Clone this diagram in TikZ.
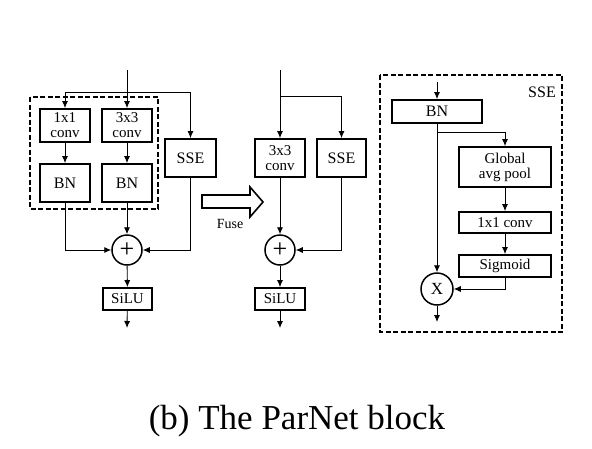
\documentclass[tikz,border=0pt]{standalone}
\usepackage{fontspec}
\setmainfont{Liberation Serif}
\usetikzlibrary{arrows.meta}

\begin{document}
\begin{tikzpicture}[x=1pt, y=-1pt, line join=miter, >={Latex[length=7pt,width=6pt]},
  blk/.style={draw, line width=1.8pt, inner sep=0pt, align=center, font=\fontsize{15}{15}\selectfont},
  op/.style={circle, draw, line width=1.5pt, inner sep=0pt, minimum size=30pt, font=\fontsize{26}{26}\selectfont},
  grp/.style={draw, dashed, dash pattern=on 5pt off 2.5pt, line width=1.8pt},
  conn/.style={line width=0.9pt, ->}]
  \useasboundingbox (0,0) rectangle (592,448);

  % training-time block
  \draw[grp] (30,97) rectangle (158,209);
  \node[blk, minimum width=50pt, minimum height=33pt] (c1) at (65,125.5) {1x1\\conv};
  \node[blk, minimum width=50pt, minimum height=33pt] (c3) at (127,125.5) {3x3\\conv};
  \node[blk, minimum width=50pt, minimum height=38pt, font=\fontsize{16}{16}\selectfont] (bn1) at (65,183) {BN};
  \node[blk, minimum width=50pt, minimum height=38pt, font=\fontsize{16}{16}\selectfont] (bn3) at (127,183) {BN};
  \node[blk, minimum width=51pt, minimum height=38pt, font=\fontsize{16}{16}\selectfont] (sseA) at (190.5,158) {SSE};
  \node[op] (addA) at (127,250) {+};
  \node[blk, minimum width=49pt, minimum height=22pt] (siluA) at (127.5,299) {SiLU};
  \coordinate (inA) at (127,70);
  \coordinate (splitA) at (127,92);
  \coordinate (outA) at (127,328);
  \draw[conn] (inA) -- (c3);
  \draw[conn] (splitA) -| (c1);
  \draw[conn] (splitA) -| (sseA);
  \draw[conn] (c1) -- (bn1);
  \draw[conn] (c3) -- (bn3);
  \draw[conn] (bn3) -- (addA);
  \draw[conn] (bn1) |- (addA);
  \draw[conn] (sseA) |- (addA);
  \draw[conn] (addA) -- (siluA);
  \draw[conn] (siluA) -- (outA);

  % fuse
  \draw[line width=1.6pt] (202,195) -- (250,195) -- (250,187) -- (263,202)
    -- (250,217) -- (250,208) -- (202,208) -- cycle;
  \node[font=\fontsize{14}{14}\selectfont] (fuselbl) at (230,224) {Fuse};

  % inference-time block
  \node[blk, minimum width=50pt, minimum height=38pt] (convB) at (280,158) {3x3\\conv};
  \node[blk, minimum width=49pt, minimum height=38pt, font=\fontsize{16}{16}\selectfont] (sseB) at (341.5,158) {SSE};
  \node[op] (addB) at (280,250) {+};
  \node[blk, minimum width=50pt, minimum height=22pt] (siluB) at (280,299) {SiLU};
  \coordinate (inB) at (280,70);
  \coordinate (splitB) at (280,96);
  \coordinate (outB) at (280,328);
  \draw[conn] (inB) -- (convB);
  \draw[conn] (splitB) -| (sseB);
  \draw[conn] (convB) -- (addB);
  \draw[conn] (sseB) |- (addB);
  \draw[conn] (addB) -- (siluB);
  \draw[conn] (siluB) -- (outB);

  % SSE detail
  \draw[grp] (380,75) rectangle (562,332);
  \node[font=\fontsize{16}{16}\selectfont] (sselbl) at (542,92) {SSE};
  \node[blk, minimum width=90pt, minimum height=23pt, font=\fontsize{16}{16}\selectfont] (bnC) at (437,111.5) {BN};
  \node[blk, minimum width=92pt, minimum height=40pt] (gap) at (505,167) {Global\\avg pool};
  \node[blk, minimum width=92pt, minimum height=21pt] (pw) at (505,222.5) {1x1 conv};
  \node[blk, minimum width=92pt, minimum height=22pt] (sig) at (505,266) {Sigmoid};
  \node[op, minimum size=32pt, font=\fontsize{17}{17}\selectfont] (mul) at (437,289) {X};
  \coordinate (inC) at (437,82);
  \coordinate (splitC) at (437,132);
  \coordinate (outC) at (437,322);
  \draw[conn] (inC) -- (bnC);
  \draw[conn] (bnC) -- (mul);
  \draw[conn] (splitC) -| (gap);
  \draw[conn] (gap) -- (pw);
  \draw[conn] (pw) -- (sig);
  \draw[conn] (sig) |- (mul);
  \draw[conn] (mul) -- (outC);

  \node[anchor=base, font=\fontsize{35}{35}\selectfont] (caption) at (297,429) {(b) The ParNet block};
\end{tikzpicture}
\end{document}
